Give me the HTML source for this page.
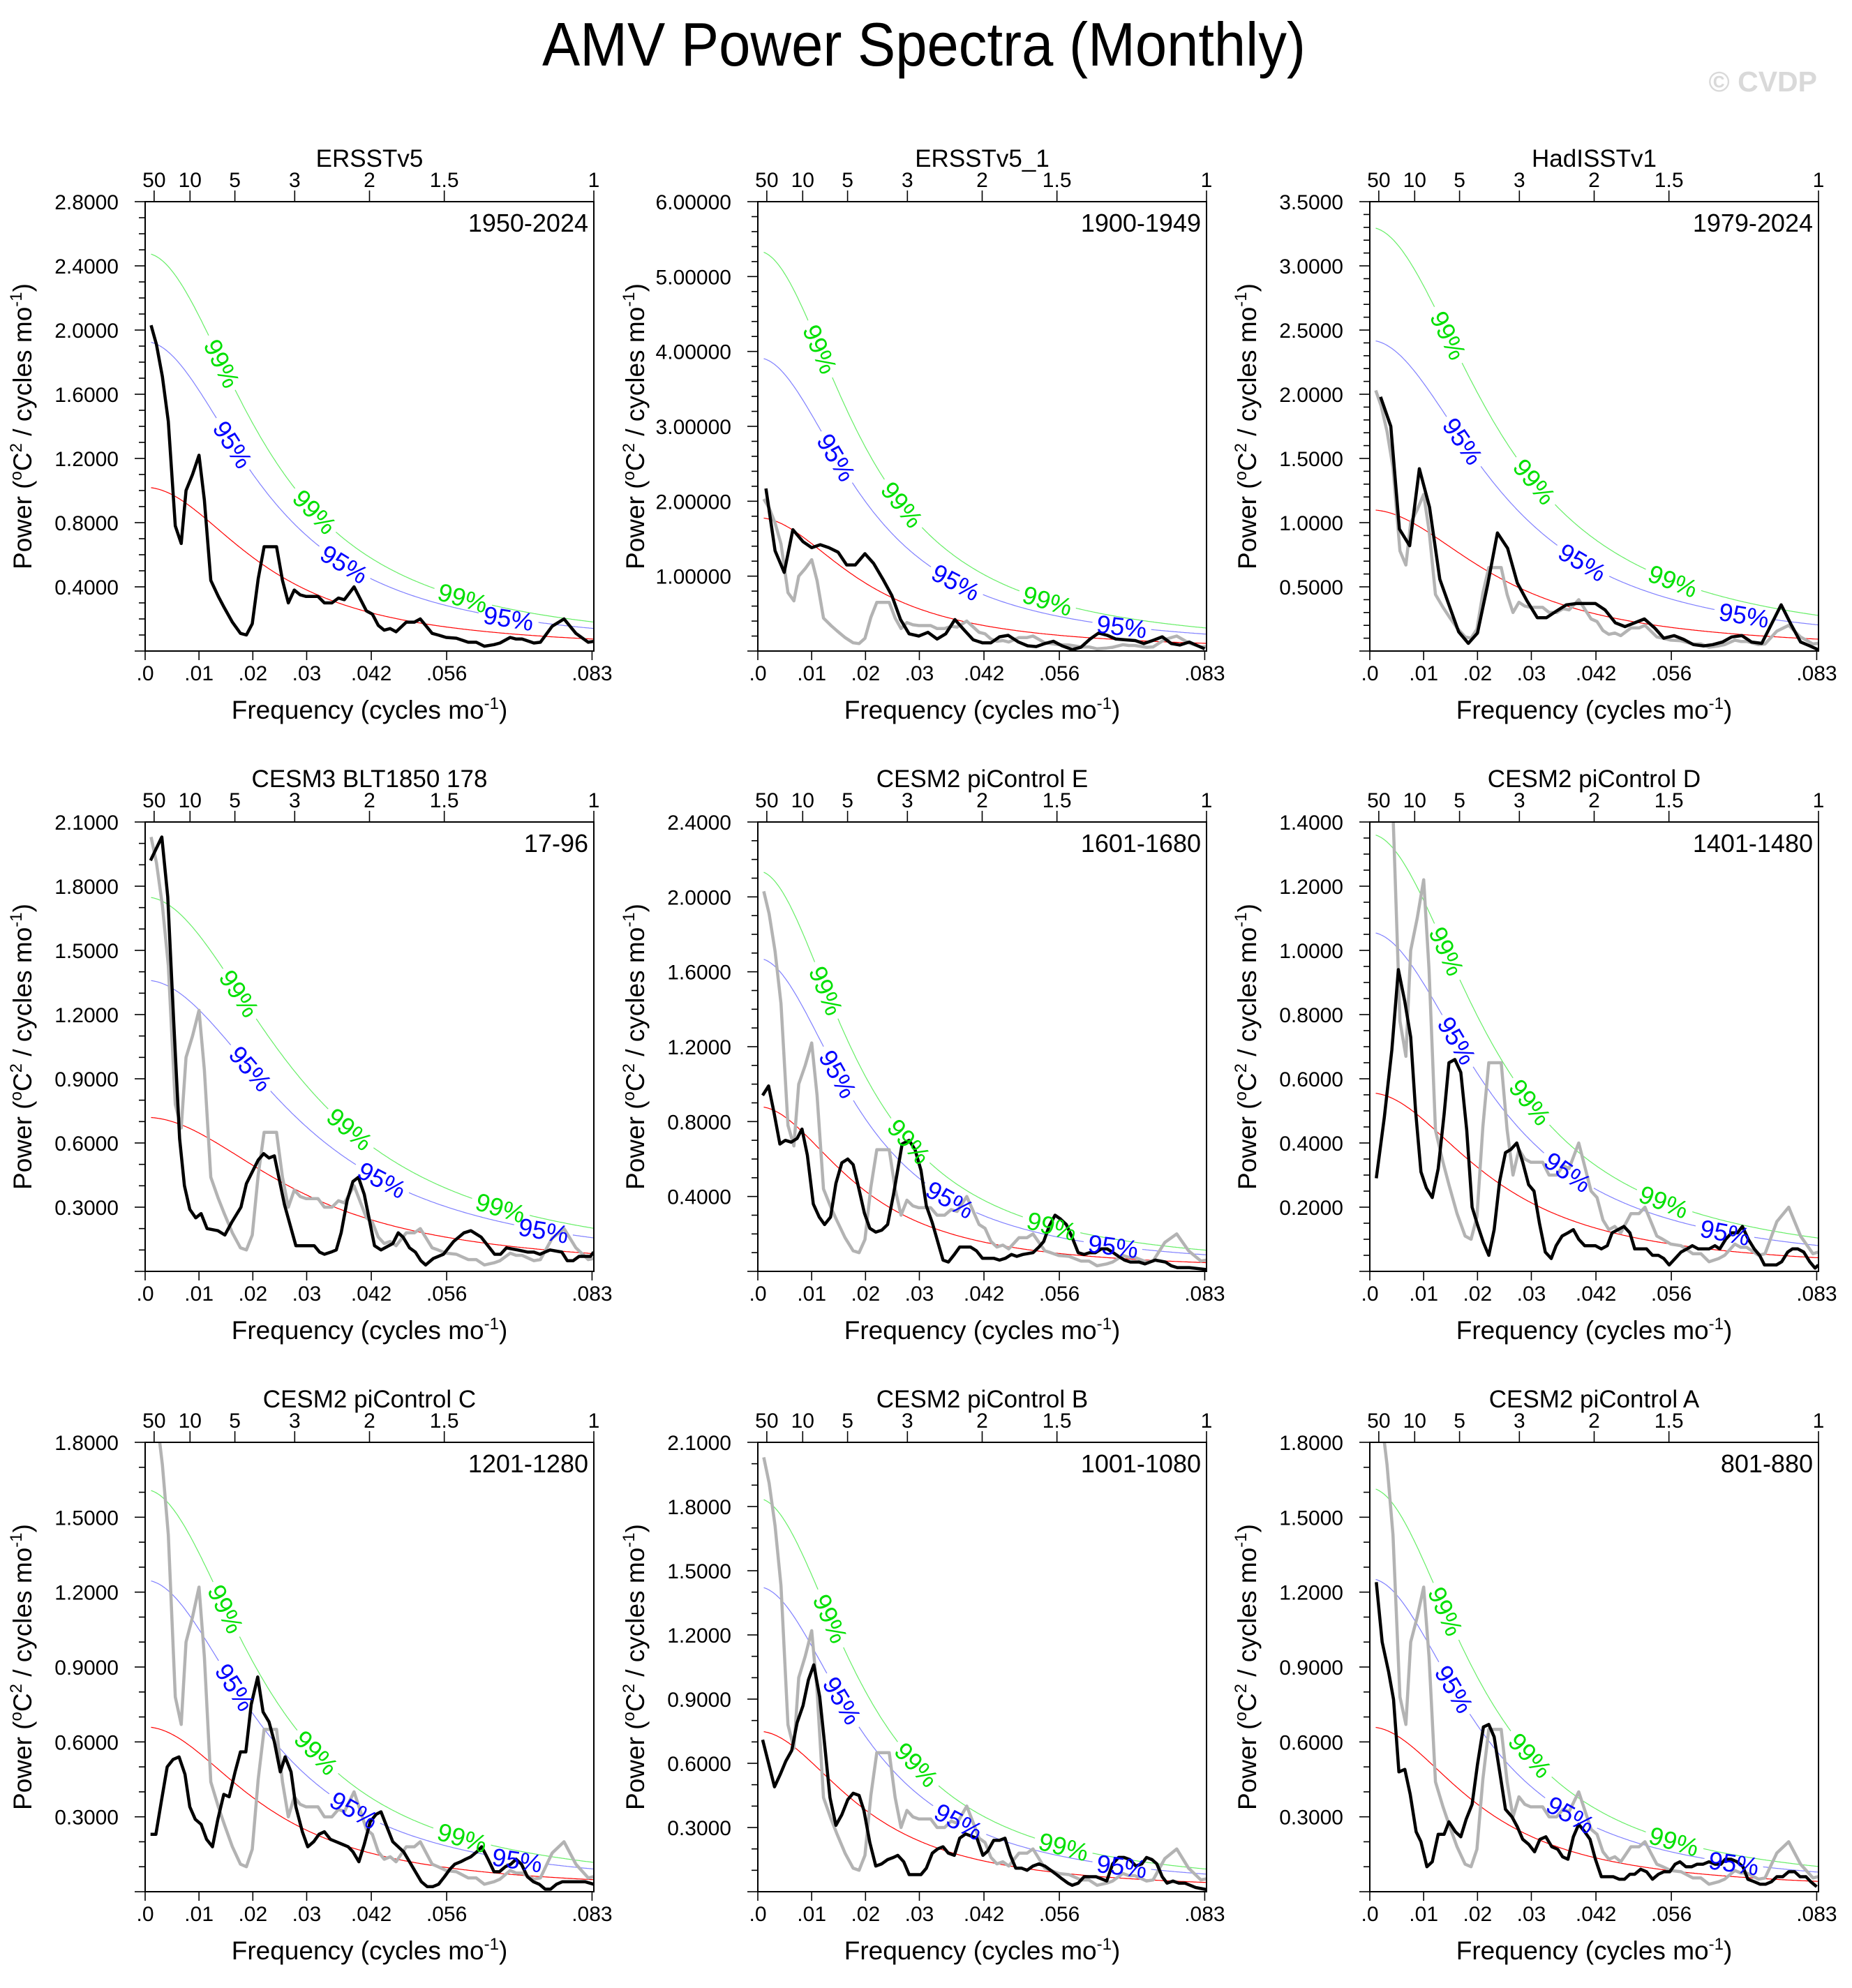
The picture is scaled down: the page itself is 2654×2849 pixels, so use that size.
<!DOCTYPE html>
<html><head><meta charset="utf-8"><title>AMV Power Spectra (Monthly)</title>
<style>
html,body{margin:0;padding:0;background:#fff;}
svg{display:block;font-family:"Liberation Sans",Arial,sans-serif;}
</style></head>
<body>
<svg id="fig" width="2654" height="2849" viewBox="0 0 2654 2849" xmlns="http://www.w3.org/2000/svg">
<rect x="0" y="0" width="2654" height="2849" fill="#fff"/>
<text x="1324" y="94" font-size="88" text-anchor="middle" textLength="1094" lengthAdjust="spacingAndGlyphs">AMV Power Spectra (Monthly)</text>
<text x="2604" y="131" font-size="41" font-weight="bold" fill="#d9d9d9" text-anchor="end">© CVDP</text>
</svg>
<script>
// ---------- data ----------
const panelTitles = ["ERSSTv5","ERSSTv5_1","HadISSTv1","CESM3 BLT1850 178","CESM2 piControl E","CESM2 piControl D","CESM2 piControl C","CESM2 piControl B","CESM2 piControl A"];
const panelYears = ["1950-2024","1900-1949","1979-2024","17-96","1601-1680","1401-1480","1201-1280","1001-1080","801-880"];
const yMax = [2.8,6,3.5,2.1,2.4,1.4,1.8,2.1,1.8];
const yStep = [0.4,1,0.5,0.3,0.4,0.2,0.3,0.3,0.3];
const yMinor = [0.1,0.2,0.1,0.1,0.1,0.05,0.1,0.1,0.1];
const yDecimals = [4,5,4,4,4,4,4,4,4];
const redStart = [1.02,1.78,1.10,0.72,0.88,0.556,0.66,0.75,0.66];
const rho = [0.865,0.88,0.855,0.83,0.885,0.862,0.865,0.88,0.875];
const blueFactor = [1.89,2.2,2.2,1.89,1.9,1.9,1.89,1.9,1.9];
const greenFactor = [2.43,3.0,3.0,2.43,2.43,2.45,2.44,2.45,2.45];
const greenLabelF = [[14.3,31.5,59],[11.6,26.8,53.8],[14.6,30.6,56.3],[17.5,38,66],[12.7,28.1,54.6],[14.3,29.8,54.6],[15,31.8,58.9],[13.5,29.5,56.8],[14.1,29.8,56.5]];
const blueLabelF = [[16.3,37,67.5],[14.6,36.8,67.6],[17.3,39.5,69.5],[19.6,44,74],[14.9,35.7,66],[16.2,36.8,66],[16.7,38.8,69.1],[15.7,37.3,67.6],[15.7,37.3,67.6]];
const topPeriods = [50,10,5,3,2,1.5,1];
const bottomTicks = [0,0.01,0.02,0.03,0.042,0.056,0.083];
const bottomTickLabels = [".0",".01",".02",".03",".042",".056",".083"];

const refFreq = [1.1,2.1,3.2,4.3,5.6,6.7,7.6,8.8,10.0,11.0,12.2,13.6,14.7,16.2,17.7,18.8,19.9,21.0,22.1,24.4,25.5,26.6,27.7,28.8,29.9,32.1,33.3,34.7,35.9,37.0,38.8,41.1,42.2,43.3,44.4,45.5,46.6,48.5,50.0,51.1,53.3,54.4,55.9,57.8,60.0,61.5,63.0,64.8,65.9,67.8,68.9,70.0,72.2,73.4,75.6,77.8,80.0,82.3,83.3];
const refVals = [2.03,1.91,1.71,1.43,0.78,0.67,1.0,1.10,1.22,0.94,0.44,0.34,0.27,0.18,0.11,0.10,0.17,0.45,0.65,0.65,0.44,0.30,0.38,0.35,0.34,0.34,0.30,0.30,0.33,0.32,0.40,0.25,0.23,0.16,0.13,0.14,0.12,0.18,0.18,0.20,0.11,0.10,0.085,0.08,0.055,0.055,0.03,0.04,0.05,0.085,0.075,0.075,0.05,0.055,0.155,0.20,0.11,0.055,0.06];

const p2Freq = [1.5,3.2,4.9,6.5,8.4,10.0,11.6,13.2,14.9,16.5,18.1,19.9,21.5,23.3,24.9,26.5,28.1,29.9,31.6,33.3,34.9,36.6,38.2,40.0,41.7,43.3,44.9,46.5,48.4,50.1,51.7,53.3,54.9,56.5,58.4,60.0,61.7,63.3,64.9,66.5,68.2,70.1,71.7,73.3,75.1,76.8,78.4,80.1,81.7,83.0];
const p2Vals = [2.17,1.34,1.05,1.62,1.46,1.38,1.42,1.38,1.32,1.15,1.15,1.30,1.17,0.95,0.74,0.42,0.23,0.20,0.25,0.16,0.23,0.42,0.29,0.15,0.11,0.11,0.19,0.21,0.12,0.07,0.06,0.10,0.13,0.07,0.02,0.05,0.16,0.24,0.21,0.16,0.15,0.14,0.10,0.14,0.19,0.10,0.08,0.12,0.07,0.03];

const p3Freq = [2.0,3.9,5.5,7.4,9.2,11.1,13.0,14.7,16.5,18.3,20.0,21.9,23.7,25.6,27.4,29.2,31.1,32.8,34.6,36.5,38.4,40.1,41.9,43.7,45.6,47.4,49.2,51.0,52.9,54.6,56.5,58.3,60.1,62.0,63.7,65.5,67.2,69.1,70.9,72.8,76.4,78.2,80.0,81.7,83.3];
const p3Vals = [1.98,1.75,0.95,0.82,1.42,1.12,0.56,0.36,0.15,0.06,0.14,0.52,0.92,0.80,0.53,0.39,0.26,0.26,0.31,0.36,0.37,0.37,0.37,0.32,0.22,0.19,0.22,0.25,0.18,0.10,0.12,0.09,0.05,0.04,0.05,0.07,0.11,0.12,0.07,0.06,0.36,0.21,0.07,0.04,0.01];

const p4Freq = [1.0,3.1,4.2,5.3,6.4,7.3,8.3,9.4,10.4,11.5,13.5,14.8,16.1,17.8,18.8,21.0,22.0,23.0,24.0,25.9,28.0,29.1,30.2,31.4,32.4,33.3,34.5,35.5,36.4,37.5,38.6,39.6,40.7,42.6,43.8,46.0,47.0,47.9,49.1,50.2,51.2,52.1,53.5,55.4,57.3,59.2,60.5,62.4,64.9,66.0,67.1,69.2,71.1,72.2,73.3,75.2,77.4,78.4,79.5,80.6,82.7,83.3];
const p4Vals = [1.92,2.03,1.75,1.17,0.62,0.40,0.29,0.25,0.27,0.20,0.19,0.17,0.23,0.30,0.41,0.52,0.55,0.53,0.54,0.31,0.12,0.12,0.12,0.12,0.09,0.08,0.09,0.10,0.18,0.33,0.42,0.44,0.36,0.12,0.10,0.13,0.18,0.16,0.11,0.09,0.05,0.03,0.06,0.08,0.14,0.18,0.19,0.16,0.08,0.08,0.11,0.10,0.09,0.09,0.08,0.10,0.09,0.05,0.05,0.07,0.07,0.09];

const p5Freq = [0.9,2.0,3.0,4.1,5.1,6.2,7.3,8.2,9.2,10.3,11.4,12.4,13.5,14.5,15.6,16.7,17.7,18.7,19.8,20.8,21.9,23.0,24.1,25.2,26.8,28.1,29.2,30.3,31.3,32.4,33.4,34.4,35.4,36.5,37.5,39.5,40.6,41.7,42.7,43.8,44.9,46.0,47.1,48.1,49.2,51.1,52.2,53.1,54.1,55.2,56.2,57.3,58.4,59.5,60.6,61.6,62.7,63.8,64.9,66.0,67.0,68.1,69.2,70.8,71.9,73.8,75.7,76.8,77.9,80.1,83.3];
const p5Vals = [0.94,0.99,0.85,0.68,0.70,0.69,0.71,0.76,0.62,0.36,0.29,0.25,0.29,0.47,0.58,0.60,0.57,0.45,0.31,0.23,0.21,0.22,0.25,0.41,0.68,0.70,0.65,0.54,0.35,0.26,0.16,0.06,0.05,0.09,0.13,0.13,0.11,0.07,0.07,0.07,0.06,0.07,0.09,0.08,0.09,0.10,0.13,0.16,0.24,0.30,0.28,0.25,0.18,0.10,0.09,0.10,0.10,0.12,0.12,0.10,0.08,0.06,0.05,0.05,0.04,0.06,0.05,0.03,0.02,0.02,0.01];

const p6Freq = [1.2,2.7,4.1,5.3,6.5,7.6,8.5,9.5,10.5,11.6,12.7,13.8,14.7,15.8,16.9,18.0,19.0,20.1,21.1,22.1,23.1,24.1,25.2,26.2,27.3,28.4,29.5,30.5,31.5,32.6,33.7,34.6,35.7,36.8,37.8,38.8,39.9,41.0,41.9,43.0,44.1,45.0,46.1,47.2,48.3,49.2,50.3,51.4,52.5,53.6,54.6,55.6,56.7,57.8,58.9,59.9,61.0,62.0,63.0,64.1,65.0,66.1,67.2,68.3,69.2,70.3,71.4,72.4,73.3,74.5,75.5,76.5,77.6,78.5,79.5,80.6,81.7,82.7,83.3];
const p6Vals = [0.29,0.48,0.69,0.94,0.84,0.73,0.50,0.31,0.26,0.23,0.32,0.49,0.65,0.66,0.62,0.44,0.20,0.14,0.09,0.05,0.13,0.28,0.37,0.38,0.40,0.34,0.27,0.25,0.15,0.06,0.04,0.08,0.11,0.12,0.13,0.10,0.08,0.08,0.08,0.07,0.08,0.12,0.13,0.14,0.12,0.07,0.07,0.07,0.05,0.05,0.04,0.02,0.04,0.06,0.07,0.08,0.07,0.07,0.07,0.08,0.07,0.10,0.12,0.12,0.14,0.10,0.07,0.05,0.02,0.02,0.02,0.03,0.06,0.07,0.07,0.06,0.03,0.01,0.02];

const p7Freq = [1.0,2.0,3.0,4.1,5.2,6.3,7.4,8.3,9.3,10.4,11.4,12.5,13.5,14.6,15.6,16.7,17.7,18.7,19.7,20.9,21.9,23.0,24.0,25.1,26.0,27.1,28.0,29.2,30.2,31.3,32.3,33.3,34.4,35.5,36.6,37.7,38.6,39.7,40.7,41.8,42.9,43.8,44.9,46.0,47.0,48.0,49.1,50.2,51.3,52.4,53.4,54.5,55.6,56.6,57.5,58.6,59.5,60.5,61.6,62.5,63.7,64.8,65.8,66.9,67.9,68.9,69.9,71.0,72.1,73.2,74.3,75.3,76.4,77.5,78.6,79.7,80.8,81.7,83.3];
const p7Vals = [0.23,0.23,0.36,0.50,0.53,0.54,0.47,0.34,0.29,0.27,0.21,0.18,0.29,0.39,0.38,0.48,0.56,0.56,0.75,0.86,0.72,0.68,0.60,0.48,0.54,0.48,0.34,0.24,0.18,0.20,0.23,0.24,0.21,0.20,0.19,0.18,0.16,0.12,0.19,0.28,0.31,0.32,0.26,0.20,0.18,0.16,0.12,0.08,0.04,0.02,0.02,0.03,0.06,0.09,0.11,0.12,0.13,0.14,0.16,0.18,0.13,0.08,0.08,0.10,0.11,0.13,0.11,0.06,0.04,0.03,0.01,0.01,0.03,0.04,0.04,0.04,0.04,0.04,0.03];

const p8Freq = [0.9,2.0,3.1,4.2,5.2,6.3,7.3,8.4,9.4,10.4,11.5,12.4,13.4,14.5,15.6,16.7,17.7,18.8,19.7,20.8,21.9,23.0,24.1,25.2,26.0,27.1,28.1,29.2,30.3,31.3,32.4,33.4,34.4,35.4,36.5,37.5,38.6,39.6,40.7,41.8,42.7,43.8,44.9,45.9,46.9,47.9,49.0,50.0,51.1,52.2,53.3,54.4,55.5,56.5,57.6,58.4,59.5,60.6,61.7,62.8,63.8,64.8,65.9,67.0,68.0,69.1,70.2,71.3,72.2,73.2,74.1,75.1,76.0,77.1,78.2,79.3,80.3,81.3,83.3];
const p8Vals = [0.71,0.60,0.49,0.55,0.61,0.66,0.79,0.87,0.99,1.06,0.91,0.69,0.44,0.31,0.36,0.43,0.46,0.45,0.38,0.23,0.12,0.13,0.15,0.16,0.17,0.14,0.08,0.08,0.08,0.11,0.18,0.20,0.21,0.18,0.17,0.25,0.27,0.26,0.25,0.17,0.19,0.24,0.24,0.25,0.17,0.11,0.11,0.10,0.12,0.13,0.12,0.10,0.08,0.06,0.04,0.03,0.04,0.07,0.07,0.07,0.06,0.05,0.13,0.16,0.16,0.15,0.12,0.13,0.16,0.15,0.13,0.07,0.04,0.05,0.04,0.04,0.03,0.02,0.01];

const p9Freq = [1.2,2.3,3.5,4.4,5.4,6.5,7.5,8.6,9.5,10.6,11.6,12.7,13.8,14.7,15.9,16.9,17.9,19.0,20.0,21.1,22.1,23.1,24.2,25.2,26.4,27.4,28.4,29.5,30.6,31.6,32.7,33.8,34.9,35.8,36.8,37.8,38.8,39.9,40.9,41.9,43.0,44.1,45.2,46.3,47.3,48.3,49.2,50.3,51.4,52.5,53.6,54.6,55.7,56.7,57.6,58.7,59.8,60.8,61.9,63.0,64.1,65.2,66.0,67.1,68.2,69.3,70.2,71.4,72.5,73.5,74.6,75.6,76.7,77.8,78.9,79.9,81.0,81.9,83.0];
const p9Vals = [1.24,1.00,0.88,0.77,0.48,0.49,0.39,0.24,0.20,0.10,0.12,0.23,0.23,0.28,0.24,0.22,0.29,0.35,0.51,0.66,0.67,0.62,0.47,0.33,0.30,0.26,0.21,0.19,0.16,0.21,0.22,0.18,0.17,0.14,0.13,0.22,0.27,0.24,0.21,0.13,0.06,0.06,0.06,0.05,0.05,0.07,0.07,0.09,0.08,0.05,0.07,0.08,0.08,0.11,0.12,0.10,0.10,0.11,0.11,0.12,0.11,0.11,0.13,0.13,0.12,0.10,0.05,0.04,0.03,0.03,0.04,0.06,0.06,0.08,0.08,0.06,0.06,0.04,0.02];

const seriesFreq = [refFreq,p2Freq,p3Freq,p4Freq,p5Freq,p6Freq,p7Freq,p8Freq,p9Freq];
const seriesVals = [refVals,p2Vals,p3Vals,p4Vals,p5Vals,p6Vals,p7Vals,p8Vals,p9Vals];

// ---------- layout ----------
const NS = "http://www.w3.org/2000/svg";
const svg = document.getElementById("fig");
const colX = [208,1086,1963];
const rowY = [289,1178,2067];
const PW = 643, PH = 644, FMAX = 1/12;

function mk(tag, attrs, parent) {
  const e = document.createElementNS(NS, tag);
  for (const k in attrs) e.setAttribute(k, attrs[k]);
  (parent || svg).appendChild(e);
  return e;
}

function markov(i, f) {
  const r = rho[i];
  const A = redStart[i] * (1 - r) * (1 - r);
  return A / (1 - 2 * r * Math.cos(2 * Math.PI * f) + r * r);
}

for (let i = 0; i < 9; i++) {
  const L = colX[i % 3], T = rowY[Math.floor(i / 3)], R = L + PW, B = T + PH;
  const xs = f => L + f / FMAX * PW;
  const ys = v => B - v / yMax[i] * PH;

  const g = mk("g", {});
  
  

  const cp = mk("clipPath", {id: "clip" + i}, g);
  mk("rect", {x: L, y: T, width: PW, height: PH}, cp);

  const tt = mk("text", {x: L + PW / 2, y: T - 50, "font-size": 35, "text-anchor": "middle"}, g);
  
  
  tt.textContent = panelTitles[i];

  const yr = mk("text", {x: R - 8, y: T + 43, "font-size": 36, "text-anchor": "end"}, g);
  
  
  yr.textContent = panelYears[i];

  const yAxis = mk("g", {stroke: "#000", "stroke-width": 1.6}, g);
  
  
  const nMinor = Math.round(yMax[i] / yMinor[i]);
  const perMajor = Math.round(yStep[i] / yMinor[i]);
  for (let k = 0; k <= nMinor; k++) {
    const y = ys(k * yMinor[i]);
    const major = k % perMajor === 0;
    mk("line", {x1: L - (major ? 15 : 9), x2: L, y1: y, y2: y}, yAxis);
    if (major && k > 0) {
      const lb = mk("text", {x: L - 38, y: y + 11, "font-size": 30, "text-anchor": "end", stroke: "none"}, g);
      
      
      lb.textContent = (k * yMinor[i]).toFixed(yDecimals[i]);
    }
  }

  bottomTicks.forEach((f, k) => {
    const x = xs(f);
    mk("line", {x1: x, x2: x, y1: B, y2: B + 13, stroke: "#000", "stroke-width": 1.6}, g);
    const lb = mk("text", {x: x, y: B + 42, "font-size": 30, "text-anchor": "middle"}, g);
    
    
    lb.textContent = bottomTickLabels[k];
  });

  topPeriods.forEach(p => {
    const x = xs(1 / (12 * p));
    mk("line", {x1: x, x2: x, y1: T - 16, y2: T, stroke: "#000", "stroke-width": 1.6}, g);
    const lb = mk("text", {x: x, y: T - 21, "font-size": 30, "text-anchor": "middle"}, g);
    
    
    lb.textContent = String(p);
  });

  const xt = mk("text", {x: L + PW / 2, y: B + 97, "font-size": 37, "text-anchor": "middle"}, g);
  
  
  xt.innerHTML = 'Frequency (cycles mo<tspan dy="-14" font-size="24">-1</tspan><tspan dy="14">)</tspan>';

  const yt = mk("text", {x: 0, y: 0, "font-size": 37, "text-anchor": "middle",
    transform: "translate(" + (L - 163) + "," + (T + PH / 2) + ") rotate(-90)"}, g);
  
  
  yt.innerHTML = 'Power (<tspan dy="-14" font-size="24">o</tspan><tspan dy="14">C</tspan><tspan dy="-14" font-size="24">2</tspan><tspan dy="14"> / cycles mo</tspan><tspan dy="-14" font-size="24">-1</tspan><tspan dy="14">)</tspan>';

  const plot = mk("g", {"clip-path": "url(#clip" + i + ")"}, g);

  function curve(fac, color, labelFs, name, labelName, txt) {
    const labels = labelFs.map(fm => {
      const f = fm / 1000;
      const x = xs(f), y = ys(markov(i, f) * fac);
      const x2 = xs(f + 0.0005), y2 = ys(markov(i, f + 0.0005) * fac);
      return {x, y, ang: Math.atan2(y2 - y, x2 - x) * 180 / Math.PI};
    });
    let d = "", pen = false;
    for (let k = 0; k <= 400; k++) {
      const f = 0.0011 + k * (FMAX - 0.0011) / 400;
      const x = xs(f), y = ys(markov(i, f) * fac);
      const near = labels.some(l => Math.hypot(l.x - x, l.y - y) < 42);
      if (near) { pen = false; continue; }
      d += (pen ? "L" : "M") + x.toFixed(1) + " " + y.toFixed(1);
      pen = true;
    }
    const p = mk("path", {d: d, fill: "none", stroke: color, "stroke-width": 1.2}, plot);
    
    
    if (txt) labels.forEach(l => {
      const t = mk("text", {x: 0, y: 0, "font-size": 36, fill: color === "#7f7fff" ? "#0000ff" : "#00e000", "text-anchor": "middle",
        transform: "translate(" + l.x.toFixed(1) + "," + l.y.toFixed(1) + ") rotate(" + l.ang.toFixed(1) + ") translate(0,13)"}, g);
      
      
      t.textContent = txt;
    });
  }
  curve(1, "#ff0000", [], "markov-red-noise-curve", "", "");
  curve(blueFactor[i], "#7f7fff", blueLabelF[i], "confidence-95-curve", "label-95-percent", "95%");
  curve(greenFactor[i], "#66ee66", greenLabelF[i], "confidence-99-curve", "label-99-percent", "99%");

  if (i > 0) {
    const pts = refFreq.map((fm, k) => xs(fm / 1000).toFixed(1) + "," + ys(refVals[k]).toFixed(1)).join(" ");
    const gl = mk("polyline", {points: pts, fill: "none", stroke: "#b3b3b3", "stroke-width": 4.5, "stroke-linejoin": "round"}, plot);
    
    
  }
  const fq = seriesFreq[i], vv = seriesVals[i];
  const pts = fq.map((fm, k) => xs(fm / 1000).toFixed(1) + "," + ys(vv[k]).toFixed(1)).join(" ");
  const bl = mk("polyline", {points: pts, fill: "none", stroke: "#000", "stroke-width": 4.5, "stroke-linejoin": "round"}, plot);
  
  

  const fr = mk("rect", {x: L, y: T, width: PW, height: PH, fill: "none", stroke: "#000", "stroke-width": 2}, g);
  
  
}
</script>
</body></html>
